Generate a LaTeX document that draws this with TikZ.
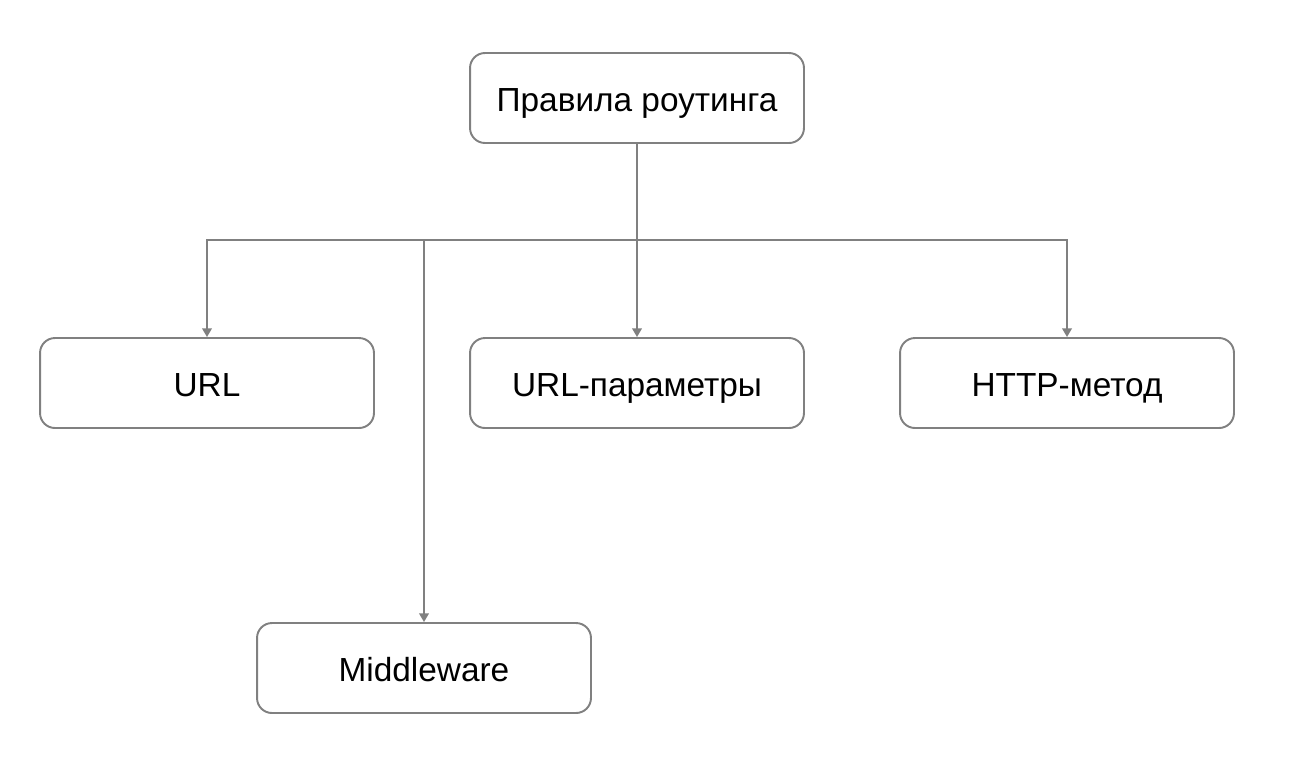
\documentclass[tikz,border=0pt]{standalone}
\usepackage{fontspec}
\setmainfont{Liberation Sans}
\usepackage{tikz}
\usetikzlibrary{positioning,arrows.meta}

\definecolor{linegray}{HTML}{808080}
\tikzset{
    rulebox/.style={draw=linegray, line width=1.1pt, rounded corners=8.5pt,
        minimum width=6.68cm, minimum height=1.8cm, text height=15pt, text depth=0pt,
        font=\fontsize{19}{23}\selectfont},
    link/.style={draw=linegray, line width=1.1pt, -{Triangle[length=5pt,width=5.5pt]}}
}

\begin{document}
\begin{tikzpicture}[x=0.02cm, y=-0.02cm]
    \useasboundingbox (0,0) rectangle (1293,769);
    \node[rulebox](rules) at (637,98){Правила роутинга};
    \node[rulebox](url) at (207,383){URL};
    \node[rulebox](params) at (637,383){URL-параметры};
    \node[rulebox](method) at (1067,383){HTTP-метод};
    \node[rulebox](mw) at (424,668){Middleware};
    \coordinate(split) at (637,240);

    \draw[draw=linegray, line width=1.1pt] (rules.south) -- (split);
    \foreach \target in {url,params,method,mw}{
        \draw[link] (split) -| (\target.north);
    }
\end{tikzpicture}
\end{document}
